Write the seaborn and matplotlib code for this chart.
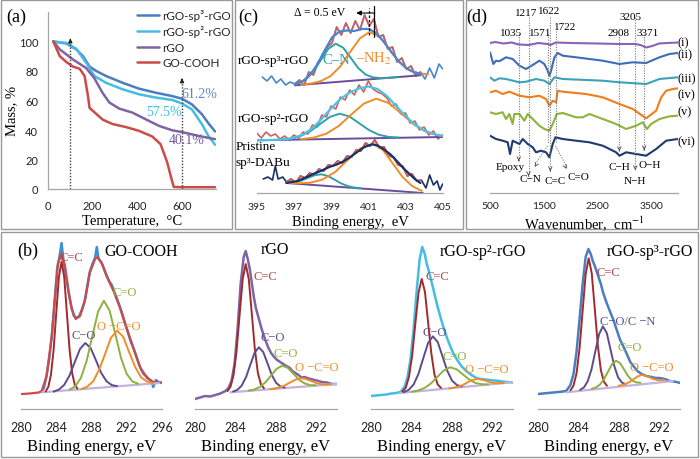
import numpy as np
import pandas as pd
import matplotlib
matplotlib.use('Agg')
import matplotlib.pyplot as plt
from matplotlib.patches import Rectangle
import seaborn as sns

# ---------------- (a) TGA ----------------
tga_t_sp3 = [24, 83, 127, 157, 186, 216, 260, 334, 408, 482, 556, 600, 644, 689, 718, 748]
tga_m_sp3 = [100, 98.6, 94.6, 90, 83, 80, 76.6, 72, 68, 65.3, 63, 61.2, 57.4, 50.7, 44.6, 39]
tga_t_sp2 = [24, 83, 127, 171, 208, 260, 334, 408, 482, 556, 600, 644, 689, 718, 748]
tga_m_sp2 = [100, 99, 95, 85.6, 76.6, 72, 67.6, 64.2, 62, 60.4, 58, 54, 44, 36, 30]
tga_t_rgo = [24, 53, 112, 171, 208, 245, 275, 319, 378, 437, 497, 556, 600, 674, 748]
tga_m_rgo = [100, 94.6, 87.8, 82, 75, 65, 58.6, 54.5, 51.8, 47.3, 42.8, 39.8, 38.6, 36, 33.8]
tga_t_go = [24, 53, 83, 112, 142, 164, 179, 186, 208, 245, 290, 349, 408, 467, 504, 534, 553, 563, 600, 748]
tga_m_go = [100, 90, 86, 83, 81.5, 76.5, 63, 55, 52, 47, 44, 42, 39.4, 35.6, 30.4, 18, 6.8, 1.4, 1.2, 1.2]
tga_labels = ['rGO-sp³-rGO', 'rGO-sp²-rGO', 'rGO', 'GO-COOH']
tga_marks_t = [100, 600]
tga_marks_top = [103, 76]
tga_residue = ['61.2%', '57.5%', '40.1%']

# ---------------- (c) N1s XPS ----------------
n_sp3_raw_e = [395.3, 395.55, 395.8, 396.05, 396.3, 396.55, 396.8, 397.05, 397.3, 397.55, 397.8, 398.05,
               398.3, 398.55, 398.8, 399.05, 399.3, 399.55, 399.8, 400.05, 400.3, 400.55, 400.8, 401.05,
               401.3, 401.55, 401.8, 402.05, 402.3, 402.55, 402.8, 403.05, 403.3, 403.55, 403.8, 404.05,
               404.3, 404.55, 404.8, 405.0]
n_sp3_raw = [116, 112, 117, 110, 114, 108, 111, 109, 113, 108, 121, 118, 131, 136, 146, 150, 166, 158, 170, 160,
             172, 163, 178, 167, 174, 156, 158, 144, 146, 131, 135, 124, 127, 117, 121, 114, 125, 115, 129, 124]
n_sp3_env_e = [397.05, 397.45, 397.85, 398.25, 398.65, 399.05, 399.45, 399.85, 400.25, 400.65, 401.05, 401.45,
               401.85, 402.25, 402.65, 403.05, 403.45, 403.85]
n_sp3_env = [109, 111.4, 117.7, 128.3, 142.5, 155.6, 161.5, 162.5, 162.0, 164.0, 164.0, 159.5, 151.0, 140.7,
             131.4, 124.6, 120.8, 119.2]
n_sp3_cn_e = [397.05, 397.25, 397.65, 398.05, 398.45, 398.85, 399.25, 399.65, 400.05, 400.45, 400.85, 401.25,
              401.65, 402.1, 402.6]
n_sp3_cn = [108.3, 109.7, 113.8, 121.6, 133.0, 144.2, 149.3, 145.3, 135.3, 125.1, 118.5, 115.6, 114.9, 115.2, 115.9]
n_sp3_nh_e = [397.4, 397.92, 398.45, 398.97, 399.5, 400.02, 400.55, 401.07, 401.6, 402.12, 402.65, 403.17, 403.7,
              404.22]
n_sp3_nh = [108.3, 109.5, 111.9, 116.9, 126.7, 140.9, 154.7, 161.0, 156.2, 144.0, 131.4, 123.2, 119.6, 118.8]
n_sp3_base_e = [397.05, 403.8]
n_sp3_base = [107.7, 117.7]

n_sp2_raw_e = [395.0, 395.25, 395.5, 395.75, 396.0, 396.25, 396.5, 396.75, 397.0, 397.25, 397.5, 397.75, 398.0,
               398.25, 398.5, 398.75, 399.0, 399.25, 399.5, 399.75, 400.0, 400.25, 400.5, 400.75, 401.0, 401.25,
               401.5, 401.75, 402.0, 402.25, 402.5, 402.75, 403.0, 403.25, 403.5, 403.75, 404.0, 404.25, 404.5,
               404.75, 405.0]
n_sp2_raw = [60, 55, 61, 57, 59, 54, 57, 53, 58, 55, 61, 59, 68, 66, 78, 76, 87, 84, 96, 93, 103, 98, 108, 101,
             112, 104, 101, 99, 95, 87, 89, 79, 80, 70, 72, 63, 66, 58, 62, 54, 58]
n_sp2_env_e = [395.0, 395.5, 396.0, 396.5, 397.0, 397.5, 398.0, 398.5, 399.0, 399.5, 400.0, 400.5, 401.0, 401.5,
               402.0, 402.5, 403.0, 403.5, 404.0, 404.5, 405.0]
n_sp2_env = [52.7, 52.9, 53.2, 53.7, 55.2, 58.5, 64.8, 74.2, 84.6, 94.0, 100.5, 104.5, 106.5, 104.0, 97.0, 87.0,
             77.0, 68.5, 62.5, 59.0, 57.2]
n_sp2_cn_e = [396.31, 396.84, 397.36, 397.89, 398.41, 398.94, 399.46, 399.99, 400.51, 401.04, 401.56, 402.09, 402.61]
n_sp2_cn = [53.4, 54.4, 56.9, 61.9, 69.0, 76.1, 79.3, 76.5, 69.7, 62.9, 58.3, 56.1, 55.5]
n_sp2_nh_e = [397.38, 398.06, 398.73, 399.41, 400.08, 400.76, 401.43, 402.11, 402.78, 403.46, 404.13, 404.81, 405.0]
n_sp2_nh = [53.9, 55.4, 59.2, 67.0, 78.4, 89.4, 94.3, 89.8, 79.3, 68.3, 61.0, 57.6, 57.0]
n_sp2_base_e = [395.0, 405.0]
n_sp2_base = [52.7, 56.0]

n_dabu_raw_e = [395.35, 395.6, 395.85, 396.0, 396.15, 396.4, 396.6, 396.85, 397.1, 397.35, 397.6, 397.85, 398.1,
                398.35, 398.6, 398.85, 399.1, 399.35, 399.6, 399.85, 400.1, 400.35, 400.6, 400.85, 401.1, 401.35,
                401.6, 401.85, 402.1, 402.35, 402.6, 402.85, 403.1, 403.35, 403.6, 403.85, 404.1, 404.3, 404.5,
                404.7, 404.85, 405.0]
n_dabu_raw = [14, 16, 13, 27, 14, 16, 11, 14, 10, 17, 15, 20, 18, 24, 22, 28, 27, 32, 30, 37, 36, 43, 42, 50, 47,
              53, 45, 46, 37, 36, 28, 27, 17, 19, 12, 13, 5, 18, 8, 12, 3, 9]
n_dabu_env_e = [396.6, 397.2, 397.7, 398.1, 398.5, 398.9, 399.3, 399.6, 400.0, 400.4, 400.8, 401.2, 401.5, 401.8,
                402.2, 402.5, 402.9, 403.2, 403.5, 403.8]
n_dabu_env = [10, 12, 16, 19.5, 22.5, 26, 28.5, 31, 35.5, 41, 46, 48.7, 47.5, 44, 38.5, 32.7, 24.5, 19.3, 14, 10]
n_dabu_cn_e = [396.6, 396.73, 397.08, 397.43, 397.78, 398.13, 398.48, 398.83, 399.18, 399.53, 399.88, 400.23, 400.58]
n_dabu_cn = [10.2, 10.3, 10.8, 12.6, 15.3, 17.9, 18.7, 17.0, 13.4, 9.7, 7.0, 5.5, 4.7]
n_dabu_nh_e = [396.6, 397.2, 397.88, 398.55, 399.23, 399.9, 400.58, 401.25, 401.78, 402.3, 402.83, 403.35, 403.88]
n_dabu_nh = [10.0, 9.7, 10.3, 13.5, 21.2, 33.2, 44.8, 49.3, 43.1, 29.9, 16.3, 7.0, 2.1]
n_dabu_base_e = [396.6, 403.93]
n_dabu_base = [10, 0]

# ---------------- (d) FTIR ----------------
ir_w_i = [500, 600, 750, 900, 1035, 1217, 1400, 1571, 1622, 1722, 2000, 2500, 2908, 3200, 3300, 3407, 3520, 3650,
          3800, 4000]
ir_i = [150, 151, 149.5, 150.5, 148.5, 148, 150, 149, 148, 150.5, 150, 149.5, 149, 149, 148, 145.5, 147, 149.5,
        150, 150.5]
ir_w_ii = [500, 562, 612, 674, 798, 922, 1047, 1171, 1295, 1419, 1512, 1575, 1606, 1637, 1699, 1761, 1854, 2102,
           2351, 2599, 2910, 3158, 3407, 3655, 3842, 3997]
ir_ii = [140.7, 129, 132.3, 131.7, 135.7, 134, 127.3, 124, 128, 132.3, 129, 122.3, 117.3, 122.3, 135.7, 140,
         137.3, 135.7, 134, 132.3, 129, 130.7, 130, 135.7, 139, 140]
ir_w_iii = [500, 581, 674, 798, 1047, 1171, 1357, 1512, 1606, 1699, 1854, 2599, 2910, 3407, 3655, 3997]
ir_iii = [115.7, 112.3, 114.7, 114, 110.7, 111.3, 114, 112.3, 109, 115.7, 114, 112.3, 110.7, 109, 114, 115.7]
ir_w_iv = [500, 612, 736, 860, 1047, 1233, 1419, 1543, 1606, 1668, 1730, 1761, 1854, 2289, 2599, 2910, 3158, 3407,
           3593, 3687, 3780, 3904, 3997]
ir_iv = [100.7, 102.3, 99, 101.3, 97.3, 95.7, 97.3, 94, 87.3, 92.3, 90.7, 102.3, 101.3, 99, 95.7, 89, 84, 74.7,
         82.3, 95.7, 102.3, 104, 104.7]
ir_w_v = [500, 612, 736, 798, 860, 922, 953, 1047, 1140, 1202, 1295, 1419, 1512, 1606, 1668, 1742, 1854, 2102,
          2227, 2351, 2599, 2848, 3034, 3220, 3345, 3420, 3500, 3655, 3842, 3997]
ir_v = [80.7, 79, 80.7, 74, 79, 69, 79, 79, 72.3, 79, 74, 67.3, 64, 62.3, 69, 79, 80, 75.7, 75.7, 79, 74, 69, 64,
        67.3, 70.7, 64, 69, 74, 76.7, 77.3]
ir_w_vi = [500, 612, 736, 829, 873, 922, 1047, 1109, 1202, 1295, 1357, 1450, 1543, 1606, 1668, 1718, 1854, 2102,
           2351, 2599, 2848, 2910, 3034, 3220, 3407, 3593, 3780, 3997]
ir_vi = [57.3, 54, 52.3, 50.7, 39, 52.3, 49, 54, 49, 45.7, 40.7, 42.3, 40.7, 35.7, 49, 55.7, 54, 52.3, 50.7, 47.3,
         40.7, 37.3, 40.7, 39, 37.3, 44, 52.3, 54]
ir_names = ['(i)', '(ii)', '(iii)', '(iv)', '(v)', '(vi)']
ir_peaks = [1035, 1217, 1571, 1622, 1722, 2908, 3205, 3371]
ir_bands = ['Epoxy', 'C−N', 'C=C', 'C=O', 'C−H', 'N−H', 'O−H']

# ---------------- (b) C1s XPS ----------------
g_raw_e = [282.3, 282.6, 282.9, 283.2, 283.5, 283.8, 284.1, 284.4, 284.6, 284.8, 285.1, 285.4, 285.7, 286.0,
           286.3, 286.6, 286.9, 287.2, 287.5, 287.8, 288.1, 288.4, 288.6, 288.8, 289.1, 289.4, 289.7, 290.0,
           290.3, 290.6, 290.9, 291.2, 291.5, 291.8, 292.1, 292.4, 292.7, 293.0, 293.3, 293.6, 293.9, 294.2,
           294.5, 294.8, 295.0, 295.3, 295.6, 295.9]
g_raw = [17, 21, 33, 50, 74, 106, 140, 154, 166, 150, 133, 117, 103, 93, 91, 93, 99, 107, 122, 137, 145, 151,
         162, 150, 147, 141, 134, 128, 124, 117, 110, 103, 95, 86, 78, 69, 62, 55, 47, 40, 35, 33, 30, 28, 22,
         29, 27, 26]
g_env_e = [280.1, 281.0, 282.0, 282.35, 282.9, 283.5, 283.9, 284.2, 284.6, 285.0, 285.4, 285.75, 286.2, 286.7,
           287.3, 287.8, 288.4, 288.7, 289.2, 289.7, 290.5, 291.2, 292.0, 292.8, 293.5, 294.3, 295.0, 296.0]
g_env = [15, 15.5, 16.5, 18, 33, 73, 116, 146, 155, 143, 117, 100, 90, 93, 110, 136, 150, 152, 145, 133, 118,
         102, 80, 60, 42, 31, 27, 26.5]
g_cc_e = [282.8, 283.1, 283.4, 283.7, 284.0, 284.3, 284.6, 284.9, 285.2, 285.5, 285.8, 286.1, 286.4]
g_cc = [17.5, 22.2, 34.2, 59.1, 95.9, 131.8, 147.3, 132.2, 96.8, 60.5, 36.0, 24.4, 20.3]
g_co_e = [283.7, 284.3, 284.9, 285.5, 286.1, 286.7, 287.3, 287.9, 288.5, 289.1, 289.7, 290.3, 290.9]
g_co = [17.4, 19.4, 24.1, 33.4, 46.9, 60.1, 66.0, 61.0, 48.8, 36.1, 27.8, 23.9, 22.9]
g_cdo_e = [285.5, 286.15, 286.8, 287.45, 288.1, 288.75, 289.4, 290.05, 290.7, 291.35, 292.0, 292.65, 293.3]
g_cdo = [19.3, 22.6, 31.1, 48.1, 73.2, 97.5, 108.3, 98.5, 75.1, 51.0, 35.0, 27.5, 25.2]
g_occo_e = [286.85, 287.5, 288.2, 288.85, 289.55, 290.2, 290.9, 291.6, 292.25, 292.95, 293.6, 294.3, 294.95]
g_occo = [19.9, 22.3, 27.8, 39.0, 55.2, 71.1, 78.3, 72.2, 57.3, 42.1, 31.9, 27.4, 26.0]
g_base_e = [282.4, 295.7]
g_base = [16.7, 26.0]

r_raw_e = [280.0, 280.5, 281.0, 281.5, 282.0, 282.5, 283.0, 283.3, 283.6, 283.9, 284.2, 284.5, 284.8, 285.0,
           285.2, 285.4, 285.6, 285.8, 286.0, 286.3, 286.6, 286.9, 287.2, 287.5, 287.8, 288.1, 288.4, 288.7,
           289.0, 289.3, 289.6, 289.9, 290.2, 290.5, 290.8, 291.2, 291.6, 292.0, 292.5, 293.0, 293.5, 294.0]
r_raw = [10, 11.5, 13, 12.5, 14, 15.5, 18, 21, 28, 45, 80, 125, 152, 158, 150, 140, 126, 112, 101, 90, 79, 70,
         62, 56, 52, 49, 47, 45, 43, 41.5, 38, 36, 34, 31.5, 32, 30.5, 29.5, 28.5, 27, 26.5, 25, 25]
r_cc_e = [283.2, 283.5, 283.8, 284.1, 284.4, 284.7, 285.0, 285.3, 285.6, 285.9, 286.2, 286.5, 286.8]
r_cc = [17.9, 22.3, 34.0, 58.5, 94.5, 129.7, 144.9, 130.1, 95.5, 59.9, 36.0, 24.7, 20.7]
r_co_e = [283.75, 284.18, 284.6, 285.03, 285.45, 285.88, 286.3, 286.73, 287.15, 287.58, 288.0, 288.43, 288.85]
r_co = [17.4, 19.1, 23.4, 31.8, 44.2, 56.3, 61.7, 56.9, 45.6, 33.8, 26.1, 22.5, 21.4]
r_cdo_e = [285.3, 285.85, 286.4, 286.95, 287.5, 288.05, 288.6, 289.15, 289.7, 290.25, 290.8, 291.35, 291.9]
r_cdo = [18.4, 19.5, 22.1, 26.7, 33.5, 40.2, 43.3, 41.1, 35.3, 29.3, 25.6, 23.9, 23.6]
r_occo_e = [287.4, 287.9, 288.4, 288.9, 289.4, 289.9, 290.4, 290.9, 291.4, 291.9, 292.4, 292.9, 293.4]
r_occo = [19.9, 20.6, 21.7, 23.8, 26.6, 29.3, 30.7, 30.1, 28.2, 26.2, 24.8, 24.5, 24.6]
r_base_e = [283.5, 294.0]
r_base = [16.7, 25.0]

s2_raw_e = [280.0, 280.5, 281.0, 281.5, 282.0, 282.5, 282.9, 283.3, 283.6, 283.9, 284.2, 284.5, 284.8, 285.05,
            285.3, 285.5, 285.7, 285.9, 286.1, 286.3, 286.6, 286.9, 287.2, 287.5, 287.8, 288.1, 288.5, 288.9,
            289.4, 289.9, 290.4, 290.8, 291.3, 291.8, 292.4, 292.9, 293.4, 294.0]
s2_raw = [13, 13.5, 14, 14.5, 15.5, 16, 17, 22, 32, 50, 80, 118, 150, 162, 155, 145, 138, 130, 122, 113, 101,
          90, 80, 71, 63, 56, 49, 43, 38, 34, 31, 30, 29.5, 28.8, 28.3, 27.5, 27, 26.5]
s2_cc_e = [283.1, 283.43, 283.74, 284.06, 284.37, 284.69, 285.0, 285.32, 285.63, 285.95, 286.26, 286.58, 286.9]
s2_cc = [17.4, 21.4, 31.9, 53.5, 85.4, 116.5, 130.0, 117.1, 86.6, 55.4, 34.4, 24.5, 21.1]
s2_co_e = [283.25, 283.73, 284.2, 284.68, 285.15, 285.63, 286.1, 286.58, 287.05, 287.53, 288.0, 288.48, 288.95]
s2_co = [16.9, 19.2, 24.5, 35.1, 50.7, 66.0, 72.7, 66.9, 52.6, 37.9, 28.2, 23.9, 22.5]
s2_cdo_e = [284.05, 284.68, 285.3, 285.93, 286.55, 287.18, 287.8, 288.43, 289.05, 289.68, 290.3, 290.93, 291.55]
s2_cdo = [17.3, 18.6, 21.1, 25.7, 32.2, 38.6, 41.7, 39.8, 34.7, 29.4, 26.0, 24.7, 24.6]
s2_occo_e = [287.7, 288.15, 288.6, 289.05, 289.5, 289.95, 290.4, 290.85, 291.3, 291.75, 292.2, 292.65, 293.1]
s2_occo = [20.6, 21.3, 22.3, 24.0, 26.5, 28.8, 30.0, 29.6, 28.3, 26.8, 25.9, 25.8, 26.0]
s2_base_e = [282.9, 293.9]
s2_base = [16.0, 26.7]

s3_raw_e = [280.0, 280.5, 281.0, 281.5, 282.0, 282.5, 282.8, 283.2, 283.5, 283.8, 284.1, 284.4, 284.7, 284.97,
            285.2, 285.4, 285.6, 285.9, 286.2, 286.4, 286.7, 287.0, 287.4, 287.8, 288.1, 288.4, 288.8, 289.1,
            289.4, 289.8, 290.2, 290.7, 291.2, 291.6, 292.0, 292.5, 293.0, 293.4, 293.8, 294.0]
s3_raw = [15, 15.5, 16, 16.5, 17, 17.5, 18.3, 24, 35, 57, 90, 125, 152, 160, 155, 148, 143, 134, 125, 117, 108,
          100, 90, 78, 69, 63, 54, 47, 43, 38, 35, 33, 32, 31, 31, 30, 28, 27.5, 26.7, 26]
s3_cc_e = [283.2, 283.5, 283.8, 284.1, 284.4, 284.7, 285.0, 285.3, 285.6, 285.9, 286.2, 286.5, 286.8]
s3_cc = [18.6, 23.4, 35.7, 61.0, 98.3, 134.8, 150.7, 135.6, 99.9, 63.3, 38.7, 27.2, 23.2]
s3_co_e = [284.15, 284.53, 284.9, 285.28, 285.65, 286.03, 286.4, 286.78, 287.15, 287.53, 287.9, 288.28, 288.65]
s3_co = [19.1, 21.6, 27.7, 39.8, 57.6, 75.0, 82.7, 76.0, 59.5, 42.7, 31.5, 26.4, 24.8]
s3_cdo_e = [285.3, 285.7, 286.1, 286.5, 286.9, 287.3, 287.7, 288.1, 288.5, 288.9, 289.3, 289.7, 290.1]
s3_cdo = [20.2, 21.5, 24.3, 29.7, 37.3, 44.8, 48.3, 45.8, 39.3, 32.7, 28.3, 26.6, 26.3]
s3_occo_e = [287.95, 288.33, 288.7, 289.08, 289.45, 289.83, 290.2, 290.58, 290.95, 291.33, 291.7, 292.08, 292.45]
s3_occo = [23.3, 24.0, 25.3, 27.3, 30.0, 32.6, 34.0, 33.6, 31.9, 30.1, 29.1, 28.8, 29.1]
s3_base_e = [282.8, 293.3]
s3_base = [16.7, 28.0]

c1s_titles = ['GO-COOH', 'rGO', 'rGO-sp²-rGO', 'rGO-sp³-rGO']

# ---------------- style ----------------
sns.set_style('white')
plt.rcParams['font.family'] = ['Liberation Serif', 'DejaVu Serif']
plt.rcParams['mathtext.fontset'] = 'stix'

W, H = 700, 460
AX = '#a6a6a6'
BLUE, CYAN, PURPLE, RED = '#4a7ebf', '#45bde3', '#8064a2', '#cc4b48'
CC, CO, CDO, OCCO, BASE = '#a12a2f', '#5e4b8c', '#8bb23f', '#f28c28', '#c3b3dd'
TEAL, NAVY = '#31a0a8', '#1c2f66'

fig = plt.figure(figsize=(7, 4.6), dpi=100)


def add_ax(l, t, r, b):
    ax = fig.add_axes([l / W, 1 - b / H, (r - l) / W, (b - t) / H])
    ax.patch.set_alpha(0)
    return ax


def txt(x, y, s, size=9, color='black', ha='center', **kw):
    fig.text(x / W, 1 - y / H, s, fontsize=size, color=color, ha=ha, va='center', **kw)


def line(ax, x, y, color, lw=1.4, **kw):
    sns.lineplot(x=x, y=y, ax=ax, color=color, linewidth=lw, estimator=None, sort=False, **kw)


def setup(ax, xlim, ylim, ticks, labels, size, direction, pad, left=False):
    ax.set_xlim(*xlim)
    ax.set_ylim(*ylim)
    sns.despine(ax=ax, left=not left)
    for side in ['left', 'bottom']:
        ax.spines[side].set_color(AX)
        ax.spines[side].set_linewidth(0.9)
    ax.set_xticks(ticks)
    ax.set_xticklabels(labels)
    ax.tick_params(axis='x', direction=direction, length=3, width=0.8, color=AX, labelsize=size,
                   labelfontfamily='Lato', pad=pad, labelcolor='#222222')
    if not left:
        ax.set_yticks([])
    ax.set_xlabel('')
    ax.set_ylabel('')


# panel borders
for (l, t, r, b) in [(1, 1, 232, 230), (235, 1, 463, 230), (466, 1, 698, 230), (1, 233, 698, 458)]:
    fig.patches.append(Rectangle((l / W, 1 - b / H), (r - l) / W, (b - t) / H, transform=fig.transFigure,
                                 fill=False, edgecolor='#9a9a9a', linewidth=1.0))

# ---------------- (a) ----------------
ax = add_ax(48, 13, 215.5, 190)
line(ax, tga_t_sp3, tga_m_sp3, BLUE, 1.8)
line(ax, tga_t_sp2, tga_m_sp2, CYAN, 1.8)
line(ax, tga_t_rgo, tga_m_rgo, PURPLE, 1.8)
line(ax, tga_t_go, tga_m_go, RED, 1.8)
handles = ax.get_lines()[:4]
ax.legend(handles, tga_labels, loc='upper right', bbox_to_anchor=(231 / W, 1 - 10 / H),
          bbox_transform=fig.transFigure, frameon=False, prop={'family': 'Lato', 'size': 8.5},
          handlelength=1.9, handletextpad=0.25, labelspacing=0.38, borderaxespad=0, borderpad=0)
for t, top in zip(tga_marks_t, tga_marks_top):
    ax.plot([t, t], [0, top - 2], ls=(0, (1, 1.2)), color='#404040', lw=1)
    ax.annotate('', xy=(t, top + 1), xytext=(t, top - 4),
                arrowprops=dict(arrowstyle='-|>', color='#202020', lw=0.8, mutation_scale=6))
setup(ax, (0, 750), (0, 120), list(range(0, 800, 100)),
      ['0', '', '200', '', '400', '', '600', ''], 8, 'out', 5, left=True)
ax.set_yticks([0, 20, 40, 60, 80, 100])
ax.tick_params(axis='y', direction='out', length=3, width=0.8, color=AX, labelsize=8,
               labelfontfamily='Lato', pad=4, labelcolor='#222222')
txt(16, 17, '(a)', 13)
txt(12, 111, 'Mass, %', 10.5, rotation=90)
txt(132, 222, 'Temperature,  °C', 10.5)
txt(199, 95, tga_residue[0], 10, '#5f86c9')
txt(164, 112, tga_residue[1], 10, CYAN)
txt(187, 141, tga_residue[2], 10, '#6e5a9a')

# ---------------- (c) ----------------
ax = add_ax(256.7, 5, 442.7, 194)
e = np.array(n_sp3_raw_e)
v = np.array(n_sp3_raw)
line(ax, e, v, '#4a86d0', 1.2)
mid = (e >= 397.05) & (e <= 403.8)
line(ax, e[mid], v[mid], '#d0605c', 1.2)
line(ax, n_sp3_base_e, n_sp3_base, '#6a4c9c', 1.4)
line(ax, n_sp3_cn_e, n_sp3_cn, TEAL, 1.4)
line(ax, n_sp3_nh_e, n_sp3_nh, OCCO, 1.4)
line(ax, n_sp3_env_e, n_sp3_env, '#4a86d0', 1.6)

line(ax, n_sp2_raw_e, n_sp2_raw, '#d0605c', 1.2)
line(ax, n_sp2_base_e, n_sp2_base, '#6a4c9c', 1.4)
line(ax, n_sp2_cn_e, n_sp2_cn, TEAL, 1.4)
line(ax, n_sp2_nh_e, n_sp2_nh, OCCO, 1.4)
line(ax, n_sp2_env_e, n_sp2_env, '#4cc3e6', 1.6)

e = np.array(n_dabu_raw_e)
v = np.array(n_dabu_raw)
line(ax, e, v, NAVY, 1.2)
mid = (e >= 396.6) & (e <= 403.85)
line(ax, e[mid], v[mid], '#d0605c', 1.2)
line(ax, n_dabu_base_e, n_dabu_base, '#6a4c9c', 1.4)
line(ax, n_dabu_cn_e, n_dabu_cn, TEAL, 1.4)
line(ax, n_dabu_nh_e, n_dabu_nh, OCCO, 1.4)
line(ax, n_dabu_env_e, n_dabu_env, NAVY, 1.6)

ax.annotate('', xy=(400.2, 180), xytext=(401.5, 180),
            arrowprops=dict(arrowstyle='-|>', color='black', lw=0.8, mutation_scale=7))
ax.plot([401.29, 401.29], [156, 187], color='black', lw=0.9)
ax.plot([401.04, 401.04], [158, 185], color='black', lw=0.9, ls=(0, (2, 1.5)))
setup(ax, (395, 405), (0, 189), [395, 397, 399, 401, 403, 405],
      ['395', '397', '399', '401', '403', '405'], 7.5, 'out', 3.5)
txt(248, 17, '(c)', 13)
txt(320, 13, 'Δ = 0.5 eV', 8.5)
txt(273, 61, 'rGO-sp³-rGO', 9.5)
txt(273, 119, 'rGO-sp²-rGO', 9.5)
txt(236, 147, 'Pristine', 9.5, ha='left')
txt(236, 163, 'sp³-DABu', 9.5, ha='left')
txt(336, 60, 'C–N', 10.5, TEAL)
txt(374, 59, '–NH$_2$', 10.5, OCCO)
txt(350, 223, 'Binding energy,  eV', 10.5)

# ---------------- (d) ----------------
ax = add_ax(490, 0, 678, 194)
ir_x = [ir_w_i, ir_w_ii, ir_w_iii, ir_w_iv, ir_w_v, ir_w_vi]
ir_y = [ir_i, ir_ii, ir_iii, ir_iv, ir_v, ir_vi]
ir_colors = ['#8a63b8', '#3e6db5', '#3aa3b8', '#f07d1a', '#8db33a', '#1f3a6e']
for x, y, c in zip(ir_x, ir_y, ir_colors):
    line(ax, x, y, c, 1.5)

GRAY = '#7a7a7a'
dot = (0, (1, 1.3))
tops = [159, 176, 159, 176, 162, 159, 176, 159]
ends = [29, 14, 47, 19, 47, 39, 20, 40]
for w, top, end in zip(ir_peaks, tops, ends):
    ax.plot([w, w], [top, end + 3], color=GRAY, lw=0.8, ls=dot)
diag = {1571: (1330, 26), 1722: (1930, 24)}
for w, end in zip(ir_peaks, ends):
    if w in diag:
        ax.plot([w, diag[w][0]], [end, diag[w][1] + 2], color=GRAY, lw=0.8, ls=dot)
        ax.annotate('', xy=diag[w], xytext=(w + (diag[w][0] - w) * 0.8, diag[w][1] + 4),
                    arrowprops=dict(arrowstyle='->', color='#555555', lw=0.7, mutation_scale=6))
    else:
        ax.annotate('', xy=(w, end), xytext=(w, end + 6),
                    arrowprops=dict(arrowstyle='->', color='#555555', lw=0.7, mutation_scale=6))
setup(ax, (500, 4000), (0, 194), [500, 1500, 2500, 3500], ['500', '1500', '2500', '3500'], 7.5, 'in', 6)
txt(477, 17, '(d)', 13)
peak_xy = [(511, 33), (526, 13), (540, 33), (549, 12), (565, 28), (619, 33), (631, 17), (648, 33)]
for p, (x, y) in zip(ir_peaks, peak_xy):
    txt(x, y, str(p), 8)
band_xy = [(510, 168), (530, 180), (555, 181), (578, 178), (619, 168), (635, 181), (650, 166)]
for s, (x, y) in zip(ir_bands, band_xy):
    txt(x, y, s, 8)
for s, y in zip(ir_names, [43, 55, 79, 95, 112, 142]):
    txt(677, y, s, 9, ha='left')
txt(584, 224, 'Wavenumber,  cm$^{-1}$', 10.5)

# ---------------- (b) ----------------
sub_pos = [(21, 162), (195, 337), (371, 513), (538, 680)]
sub_xlim = [(280, 296), (280, 294), (280, 294), (280, 294)]
sub_ticks = [[280, 284, 288, 292, 296], [280, 284, 288, 292], [280, 284, 288, 292], [280, 284, 288, 292]]
raws = [(g_raw_e, g_raw, '#3d8fd6'), (r_raw_e, r_raw, PURPLE), (s2_raw_e, s2_raw, CYAN), (s3_raw_e, s3_raw, BLUE)]
bases = [(g_base_e, g_base), (r_base_e, r_base), (s2_base_e, s2_base), (s3_base_e, s3_base)]
comps = [
    [(g_cc_e, g_cc), (g_co_e, g_co), (g_cdo_e, g_cdo), (g_occo_e, g_occo)],
    [(r_cc_e, r_cc), (r_co_e, r_co), (r_cdo_e, r_cdo), (r_occo_e, r_occo)],
    [(s2_cc_e, s2_cc), (s2_co_e, s2_co), (s2_cdo_e, s2_cdo), (s2_occo_e, s2_occo)],
    [(s3_cc_e, s3_cc), (s3_co_e, s3_co), (s3_cdo_e, s3_cdo), (s3_occo_e, s3_occo)],
]
for i in range(4):
    l, r = sub_pos[i]
    ax = add_ax(l, 235, r, 410)
    line(ax, raws[i][0], raws[i][1], raws[i][2], 1.8)
    if i == 0:
        line(ax, g_env_e, g_env, RED, 1.6)
    line(ax, bases[i][0], bases[i][1], BASE, 1.6)
    for (ce, cv), c in zip(comps[i], [CC, CO, CDO, OCCO]):
        line(ax, ce, cv, c, 1.4)
    setup(ax, sub_xlim[i], (0, 175), sub_ticks[i], [str(t) for t in sub_ticks[i]], 9, 'in', 9)
    txt((l + r) / 2, 447, 'Binding energy, eV', 12)

txt(28, 251, '(b)', 13)
title_xy = [(141, 252), (275, 250), (483, 252), (650, 252)]
for s, (x, y) in zip(c1s_titles, title_xy):
    txt(x, y, s, 11.5)
lab = [
    ('C=C', 71, 258, '#b0474b'), ('C=O', 125, 293, CDO), ('O −C=O', 119, 327, OCCO), ('C−O', 84, 336, CO),
    ('C=C', 265, 277, '#b0474b'), ('C−O', 273, 338, CO), ('C=O', 286, 354, CDO), ('O −C=O', 317, 368, OCCO),
    ('C=C', 437, 277, '#b0474b'), ('C−O', 435, 333, CO), ('C=O', 455, 357, CDO), ('O −C=O', 487, 370, OCCO),
    ('C=C', 608, 273, '#b0474b'), ('C−O/C −N', 628, 322, CO), ('C=O', 630, 348, CDO), ('O −C=O', 652, 368, OCCO),
]
for s, x, y, c in lab:
    txt(x, y, s, 9, c)

fig.savefig('out.png', dpi=100)
